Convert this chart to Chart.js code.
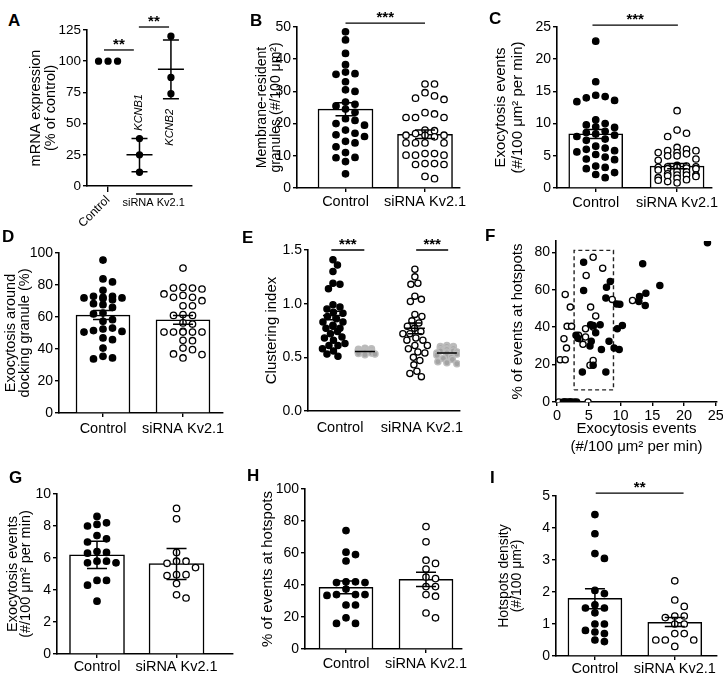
<!DOCTYPE html>
<html>
<head>
<meta charset="utf-8">
<script src="https://cdn.jsdelivr.net/npm/chart.js@4.4.1/dist/chart.umd.min.js"></script>
<style>
html, body { margin: 0; padding: 0; background: #fff; }
#fig { position: relative; width: 723px; height: 686px; overflow: hidden; font-family: Arial, "Liberation Sans", Helvetica, sans-serif; }
#fig canvas { position: absolute; }
.lt { position: absolute; font-weight: 900; font-size: 17px; line-height: 1; z-index: 2; }
</style>
</head>
<body>
<div id="fig">
  <div class="lt" style="left:8px;top:12px">A</div>
  <div class="lt" style="left:250px;top:12px">B</div>
  <div class="lt" style="left:489px;top:10px">C</div>
  <div class="lt" style="left:2px;top:228px">D</div>
  <div class="lt" style="left:242px;top:229px">E</div>
  <div class="lt" style="left:485px;top:227px">F</div>
  <div class="lt" style="left:9px;top:469px">G</div>
  <div class="lt" style="left:247px;top:467px">H</div>
  <div class="lt" style="left:490px;top:469px">I</div>
</div>
<script>
const FONT = 'Arial, "Liberation Sans", Helvetica, sans-serif';
Chart.defaults.font.family = FONT;
Chart.defaults.font.size = 14;
Chart.defaults.color = '#000';

// ---- data ----
const groups = ['Control', 'siRNA Kv2.1'];

// A  mRNA expression (% of control)
const aGroups = ['Control', 'KCNB1', 'KCNB2'];
const aPoints = [[100, 100, 100], [38, 25, 11], [120, 87, 74]];
const aMean = [100, 25, 93.5];
const aLow = [100, 11.5, 70];
const aHigh = [100, 38, 117];
const aYTicks = [0, 25, 50, 75, 100, 125];
const aSig = [{ from: 0.87, to: 1.82, y: 109, text: '**' }, { from: 1.98, to: 2.94, y: 127.4, text: '**' }];

// B  membrane-resident granules
const bCtrl = [48.5, 46, 41.8, 38.3, 36, 35.5, 35.3, 33, 30.5, 30, 26.7, 26, 25.5, 24.5, 23.5, 21.5, 21, 20, 19.5, 18, 17, 16.5, 16, 14.5, 14, 12.8, 11, 9.5, 9.4, 8.2, 4.4];
const bSi = [32.3, 32.3, 29.6, 28.6, 27.9, 27.5, 23.4, 23, 21.9, 21.9, 21.9, 18, 17.8, 16.9, 16.4, 16.4, 16.4, 15.9, 14, 14, 14, 14, 10.7, 10.7, 10.2, 10.2, 10.2, 7.6, 7.6, 7.3, 7.3, 3.6, 2.9];
const bMean = [24.5, 16.7];
const bLow = [22.4, 15.4];
const bHigh = [26.5, 18];
const bYTicks = [0, 10, 20, 30, 40, 50];
const bSig = [{ from: 1, to: 2, y: 51.2, text: '***' }];

// C  exocytosis events
const cCtrl = [22.8, 16.5, 14.4, 14.2, 14.0, 13.6, 13.4, 10.6, 10.0, 9.8, 9.5, 9.4, 8.8, 8.6, 8.4, 8.2, 8.0, 7.6, 7.4, 6.5, 6.2, 6.0, 5.8, 5.6, 5.2, 4.8, 4.5, 4.4, 3.4, 3.2, 3.0, 2.4, 2.1, 1.6];
const cSi = [12.0, 9.0, 8.5, 8.0, 6.3, 6.0, 5.8, 5.8, 5.5, 5.5, 5.3, 5.0, 5.0, 4.5, 4.3, 3.5, 3.4, 3.3, 3.3, 3.2, 3.2, 3.1, 3.0, 3.0, 2.8, 2.6, 2.5, 2.2, 2.0, 2.0, 2.0, 1.9, 1.8, 1.6, 1.5, 1.3, 1.2, 1.0, 0.8];
const cMean = [8.4, 3.4];
const cLow = [7.7, 3.0];
const cHigh = [9.1, 3.8];
const cYTicks = [0, 5, 10, 15, 20, 25];
const cSig = [{ from: 0.96, to: 2.01, y: 25.3, text: '***' }];

// D  exocytosis around docking granule (%)
const dCtrl = [95.6, 83.8, 81.9, 76.7, 72.9, 72.9, 72.3, 71.9, 71.9, 71.5, 70.8, 68.3, 67.7, 66, 62.5, 61.9, 58.3, 57.3, 53.1, 52.5, 51.5, 51, 50.6, 46.9, 45.8, 40.6, 35.4, 34.4, 33.8];
const dSi = [90.6, 78.5, 78.1, 78.1, 77.5, 74.4, 73.5, 72.3, 72.3, 70.2, 67, 67, 61.5, 61, 61, 56.3, 55.6, 51, 50.6, 50.6, 50.6, 50.6, 50.6, 45.4, 45.2, 40.6, 39.6, 36.9, 36.5, 34.4];
const dMean = [61.2, 58.3];
const dLow = [58.5, 55.5];
const dHigh = [64, 61];
const dYTicks = [0, 20, 40, 60, 80, 100];

// E  clustering index (observed vs random)
const eCtrl = [1.41, 1.36, 1.30, 1.19, 1.18, 1.14, 0.99, 0.97, 0.95, 0.92, 0.91, 0.88, 0.86, 0.83, 0.83, 0.80, 0.79, 0.77, 0.77, 0.74, 0.72, 0.69, 0.68, 0.66, 0.63, 0.61, 0.61, 0.58, 0.56, 0.53, 0.51];
const eCtrlRand = [0.585, 0.58, 0.575, 0.57, 0.57, 0.565, 0.565, 0.56, 0.56, 0.56, 0.555, 0.555, 0.555, 0.55, 0.55, 0.55, 0.545, 0.545, 0.54, 0.54, 0.535, 0.53, 0.525];
const eSi = [1.32, 1.25, 1.19, 1.18, 1.07, 1.04, 1.02, 0.90, 0.88, 0.84, 0.82, 0.79, 0.77, 0.74, 0.72, 0.72, 0.68, 0.66, 0.66, 0.61, 0.61, 0.58, 0.55, 0.54, 0.50, 0.47, 0.43, 0.37, 0.35, 0.32];
const eSiRand = [0.61, 0.60, 0.60, 0.60, 0.59, 0.59, 0.58, 0.58, 0.57, 0.57, 0.56, 0.56, 0.55, 0.55, 0.54, 0.54, 0.53, 0.52, 0.51, 0.50, 0.49, 0.48, 0.46, 0.45, 0.44];
const eMean = [0.89, 0.555, 0.77, 0.54];
const eLow = [0.85, 0.555, 0.72, 0.54];
const eHigh = [0.93, 0.555, 0.82, 0.54];
const eYTicks = [0, 0.5, 1.0, 1.5];
const eSig = [{ from: 0.95, to: 1.98, y: 1.5, text: '***' }, { from: 3.6, to: 4.6, y: 1.5, text: '***' }];

// F  hotspots vs exocytosis rate
const fCtrlX = [23.7, 13.5, 16.2, 14.0, 13.0, 12.9, 13.9, 8.4, 7.8, 7.7, 9.4, 9.9, 4.2, 4.2, 10.3, 9.5, 6.8, 5.7, 5.3, 6.1, 5.4, 5.2, 7.0, 9.0, 9.8, 8.2, 3.0, 3.3, 5.7, 4.0, 7.7, 1.0, 1.4, 1.8, 2.2, 2.7, 3.1];
const fCtrlY = [85, 73.8, 62.2, 58.1, 56.4, 53.7, 51.6, 64.4, 61.3, 55.5, 52.4, 52.2, 74.7, 59.6, 40.9, 39.1, 41.2, 40.9, 41.2, 37, 32.4, 29.9, 28.1, 28.8, 28.1, 32.5, 35.6, 34, 19.6, 16, 16, 0, 0, 0, 0, 0, 0];
const fSiX = [5.7, 7.2, 4.6, 1.3, 2.1, 5.3, 8.7, 11.9, 6.1, 1.6, 2.3, 1.1, 1.5, 0.5, 1.3, 3.6, 3.4, 4.5, 4.1, 4.5, 5.7, 5.2, 5.7, 0.3, 1.2, 2.1, 4.9];
const fSiY = [77.3, 71.5, 67.6, 57.4, 50.7, 50.7, 54.8, 54.2, 45.9, 40.4, 40.4, 33.8, 28.8, 22.6, 22.6, 33.8, 35.6, 34.7, 30.8, 39.1, 40, 19.6, 22.2, 0, 0, 0, 0];
const fGateX = [2.7, 8.9];
const fGateY = [6.5, 81];
const fXTicks = [0, 5, 10, 15, 20, 25];
const fYTicks = [0, 20, 40, 60, 80];

// G  exocytosis events (subset)
const gCtrl = [8.6, 8.2, 8.1, 8.0, 7.4, 7.2, 7.0, 6.4, 6.35, 6.3, 5.8, 5.8, 5.7, 5.7, 4.6, 4.6, 4.3, 3.3];
const gSi = [9.1, 8.45, 6.35, 5.8, 5.8, 5.67, 5.4, 4.96, 4.96, 4.9, 4.4, 3.7, 3.5];
const gMean = [6.2, 5.65];
const gLow = [5.35, 4.65];
const gHigh = [7.05, 6.6];
const gYTicks = [0, 2, 4, 6, 8, 10];

// H  % of events at hotspots
const hCtrl = [74, 60.5, 59, 55, 42, 42, 41.5, 41.5, 37.5, 34, 34, 34, 33.5, 27.5, 27.5, 19.5, 16, 16];
const hSi = [76.5, 67, 55.5, 53.5, 50, 45, 44, 39, 39, 34, 33, 22.5, 19.5];
const hMean = [38.5, 43.5];
const hLow = [34.5, 39];
const hHigh = [42.5, 48];
const hYTicks = [0, 20, 40, 60, 80, 100];

// I  hotspots density
const iCtrl = [4.42, 3.82, 3.2, 3.05, 2.05, 1.95, 1.6, 1.5, 1.5, 1.35, 1.0, 1.0, 0.8, 0.75, 0.7, 0.5, 0.45];
const iSi = [2.35, 1.75, 1.55, 1.25, 1.25, 1.2, 1.0, 1.0, 0.7, 0.7, 0.5, 0.5, 0.5, 0.3];
const iMean = [1.8, 1.05];
const iLow = [1.48, 0.92];
const iHigh = [2.1, 1.2];
const iYTicks = [0, 1, 2, 3, 4, 5];
const iSig = [{ from: 1.01, to: 2.11, y: 5.09, text: '**' }];

// ---- helpers ----
const fig = document.getElementById('fig');
const marks = {
  filled: { bg: '#000', bd: '#000' },
  open: { bg: '#fff', bd: '#000' },
  gray: { bg: '#a3a3a3', bd: '#bdbdbd' }
};

// column scatter: points with close values are put side by side (pixel space)
function swarm(values, center, ppx, ppy, o) {
  const order = values.map((v, i) => i).sort((a, b) => values[b] - values[a]);
  const placed = [];
  const xs = [];
  order.forEach(i => {
    const py = values[i] * ppy;
    let best = 0, bestN = Infinity;
    for (let k = 0; ; k++) {
      const off = (k % 2 ? 1 : -1) * Math.ceil(k / 2) * o.step;
      if (Math.abs(off) > o.half) break;
      let n = 0;
      placed.forEach(p => {
        const dx = Math.abs(p.x - off), dy = Math.abs(p.y - py);
        if (o.round ? Math.hypot(dx, dy) < o.dh : (dx < o.dh && dy < o.dv)) n++;
      });
      if (n === 0) { best = off; break; }
      if (n < bestN) { bestN = n; best = off; }
    }
    placed.push({ x: best, y: py });
    xs[i] = center + best / ppx;
  });
  return values.map((v, i) => ({ x: xs[i], y: v }));
}

function errLines(e, ppx) {
  const pts = [];
  const c = (e.cap || 0) / ppx, m = (e.meanHalf || 0) / ppx;
  e.x.forEach((x, i) => {
    const lo = e.lo[i], hi = e.hi[i];
    if (hi > lo) {
      pts.push({ x: x - c, y: hi }, { x: x + c, y: hi }, { x, y: null },
               { x, y: hi }, { x, y: lo }, { x, y: null },
               { x: x - c, y: lo }, { x: x + c, y: lo }, { x, y: null });
    }
    if (m && e.mean && (hi > lo || e.meanAlways)) {
      pts.push({ x: x - m, y: e.mean[i] }, { x: x + m, y: e.mean[i] }, { x, y: null });
    }
  });
  return pts;
}

function sigPlugin(list) {
  return {
    id: 'sig',
    afterDraw(chart) {
      if (!list) return;
      const { ctx, scales: { x, y } } = chart;
      ctx.save();
      ctx.strokeStyle = '#000';
      ctx.fillStyle = '#000';
      ctx.lineWidth = 1.3;
      ctx.font = 'bold 15px ' + FONT;
      ctx.textAlign = 'center';
      ctx.textBaseline = 'alphabetic';
      list.forEach(s => {
        const a = x.getPixelForValue(s.from), b = x.getPixelForValue(s.to), yy = y.getPixelForValue(s.y);
        ctx.beginPath();
        ctx.moveTo(a, yy);
        ctx.lineTo(b, yy);
        ctx.stroke();
        ctx.fillText(s.text, (a + b) / 2, yy - 1);
      });
      ctx.restore();
    }
  };
}

function axisBase(len, show) {
  return {
    grid: { display: true, drawOnChartArea: false, drawTicks: true, offset: false, tickLength: len, color: show ? '#000' : 'rgba(0,0,0,0)', lineWidth: 1.4 },
    border: { display: true, color: '#000', width: 1.6 }
  };
}

function panel(s) {
  const g = s.geom;
  const W = Math.round(g.x1 - g.x0 + g.L + g.R);
  const H = Math.round(g.yBot - g.yTop + g.T + g.B);
  const cv = document.createElement('canvas');
  cv.width = W;
  cv.height = H;
  cv.style.left = (g.x0 - g.L) + 'px';
  cv.style.top = (g.yTop - g.T) + 'px';
  cv.style.width = W + 'px';
  cv.style.height = H + 'px';
  fig.appendChild(cv);

  const ppx = (g.x1 - g.x0) / (s.x.max - s.x.min);
  const ppy = (g.yBot - g.yTop) / (s.y.max - s.y.min);
  const ds = [];

  if (s.bars) {
    ds.push({
      type: 'bar', data: s.bars.x.map((x, i) => ({ x, y: s.bars.y[i] })),
      barThickness: s.bars.w, backgroundColor: '#fff', borderColor: '#000', borderWidth: 1.5, order: 5
    });
  }
  (s.swarms || []).forEach(w => {
    const mk = marks[w.kind];
    ds.push({
      type: 'scatter', data: swarm(w.values, w.x, ppx, ppy, w.lay),
      pointRadius: w.r, pointBackgroundColor: mk.bg, pointBorderColor: mk.bd, pointBorderWidth: 1.3, order: 2
    });
  });
  (s.points || []).forEach(w => {
    const mk = marks[w.kind];
    ds.push({
      type: 'scatter', data: w.xs.map((x, i) => ({ x, y: w.ys[i] })),
      pointRadius: w.r, pointBackgroundColor: mk.bg, pointBorderColor: mk.bd, pointBorderWidth: 1.3, order: 2
    });
  });
  if (s.gate) {
    const [xa, xb] = s.gate.x, [ya, yb] = s.gate.y;
    ds.push({
      type: 'line', data: [{ x: xa, y: ya }, { x: xb, y: ya }, { x: xb, y: yb }, { x: xa, y: yb }, { x: xa, y: ya }],
      borderColor: '#222', borderWidth: 1.4, borderDash: [4, 3], pointRadius: 0, fill: false, order: 4
    });
  }
  if (s.errs) {
    ds.push({
      type: 'line', data: errLines(s.errs, ppx), borderColor: '#000', borderWidth: 1.5,
      pointRadius: 0, spanGaps: false, fill: false, order: 1
    });
  }

  const xs = s.x, ys = s.y;
  const plugins = [sigPlugin(s.sig)];
  if (s.extra) plugins.push({ id: 'extra', afterDraw: s.extra });

  return new Chart(cv, {
    type: 'scatter',
    data: { datasets: ds },
    options: {
      responsive: false,
      animation: false,
      devicePixelRatio: 1,
      events: [],
      layout: { padding: { left: 0, top: g.T, right: g.R, bottom: 0 } },
      plugins: { legend: { display: false }, tooltip: { enabled: false } },
      scales: {
        x: Object.assign(axisBase(xs.tickLen, xs.showTicks !== false), {
          type: 'linear', min: xs.min, max: xs.max, offset: false, z: xs.z || 0,
          ticks: {
            autoSkip: false, minRotation: xs.rotation || 0, maxRotation: xs.rotation || 0,
            padding: xs.pad, font: { size: xs.font || 14.5 }, color: '#000',
            callback: (v, i) => xs.labels[i]
          },
          afterBuildTicks: a => { a.ticks = xs.ticks.map(v => ({ value: v })); },
          afterFit: a => { a.height = g.B; },
          title: xs.title
            ? { display: true, text: xs.title, color: '#000', padding: 0, font: { size: xs.titleSize, lineHeight: xs.titleLH } }
            : { display: false }
        }),
        y: Object.assign(axisBase(4, true), {
          type: 'linear', min: ys.min, max: ys.max,
          ticks: {
            padding: 2, font: { size: ys.font || 14 }, color: '#000',
            callback: v => (ys.fmt ? ys.fmt(v) : String(v))
          },
          afterBuildTicks: a => { a.ticks = ys.ticks.map(v => ({ value: v })); },
          afterFit: a => { a.width = g.L; },
          title: { display: true, text: ys.title, color: '#000', padding: 0, font: { size: ys.titleSize, lineHeight: ys.titleLH } }
        })
      }
    },
    plugins
  });
}

const barLay = { dh: 9.5, dv: 7, step: 4.75, half: 24 };

function barSpec(geom, xr, yr, ctrl, si, mean, low, high, sig, w) {
  return {
    geom, x: Object.assign({ ticks: [1, 2], labels: groups, tickLen: 4, z: 1 }, xr), y: yr,
    bars: { x: [1, 2], y: mean, w },
    swarms: [
      { x: 1, values: ctrl, kind: 'filled', r: 3.2, lay: barLay },
      { x: 2, values: si, kind: 'open', r: 3.2, lay: barLay }
    ],
    errs: { x: [1, 2], lo: low, hi: high, cap: 10 },
    sig
  };
}

// A
panel({
  geom: { x0: 87, x1: 192, yTop: 30, yBot: 186, L: 58, T: 30, R: 15, B: 42 },
  x: { min: 0.33, max: 3.67, ticks: [1], labels: [aGroups[0]], rotation: 45, tickLen: 6, pad: 1, font: 12 },
  y: { min: 0, max: 125, ticks: aYTicks, font: 13.5, title: ['mRNA expression', '(% of control)'], titleSize: 14.5, titleLH: 1.0 },
  swarms: aPoints.map((v, i) => ({ x: i + 1, values: v, kind: 'filled', r: 3, lay: { dh: 9.5, dv: 7, step: 4.75, half: 20 } })),
  errs: { x: [1, 2, 3], lo: aLow, hi: aHigh, mean: aMean, cap: 8, meanHalf: 13 },
  sig: aSig,
  extra(chart) {
    const { ctx, scales: { x, y } } = chart;
    ctx.save();
    ctx.fillStyle = '#000';
    ctx.strokeStyle = '#000';
    ctx.font = 'italic 11px ' + FONT;
    ctx.textAlign = 'center';
    ctx.textBaseline = 'middle';
    [[2, 59], [3, 47]].forEach(([gx, gy], i) => {
      ctx.save();
      ctx.translate(x.getPixelForValue(gx) - 1, y.getPixelForValue(gy));
      ctx.rotate(-Math.PI / 2);
      ctx.fillText(aGroups[i + 1], 0, 0);
      ctx.restore();
    });
    const yb = y.bottom + 8;
    ctx.lineWidth = 1.3;
    ctx.beginPath();
    ctx.moveTo(x.getPixelForValue(1.89), yb);
    ctx.lineTo(x.getPixelForValue(3.06), yb);
    ctx.stroke();
    ctx.font = '11px ' + FONT;
    ctx.fillText(groups[1], x.getPixelForValue(2.45), yb + 9);
    ctx.restore();
  }
});

// B
panel(barSpec(
  { x0: 297, x1: 460, yTop: 27, yBot: 188, L: 42, T: 27, R: 12, B: 30 },
  { min: 0.39, max: 2.44, pad: 1.2 },
  { min: 0, max: 50, ticks: bYTicks, title: ['Membrane-resident', 'granules (#/100 μm²)'], titleSize: 14, titleLH: 1.0 },
  bCtrl, bSi, bMean, bLow, bHigh, bSig, 55));

// C
panel(barSpec(
  { x0: 557, x1: 713, yTop: 27, yBot: 188, L: 65, T: 27, R: 9, B: 30 },
  { min: 0.524, max: 2.427, pad: 1.8 },
  { min: 0, max: 25, ticks: cYTicks, title: ['Exocytosis events', '(#/100 μm² per min)'], titleSize: 15, titleLH: 1.13 },
  cCtrl, cSi, cMean, cLow, cHigh, cSig, 54));

// D
panel(barSpec(
  { x0: 59, x1: 223, yTop: 253, yBot: 413, L: 55, T: 25, R: 12, B: 30 },
  { min: 0.45, max: 2.5, pad: 3.5 },
  { min: 0, max: 100, ticks: dYTicks, title: ['Exocytosis around', 'docking granule (%)'], titleSize: 14.5, titleLH: 0.95 },
  dCtrl, dSi, dMean, dLow, dHigh, null, 54));

// E
const eLay = { round: true, dh: 7, step: 0.5, half: 13 };
panel({
  geom: { x0: 308, x1: 460, yTop: 250, yBot: 411, L: 44, T: 25, R: 10, B: 30 },
  x: { min: 0.22, max: 4.97, ticks: [1.22, 3.78], labels: groups, tickLen: 4, pad: 3.8, showTicks: false },
  y: { min: 0, max: 1.5, ticks: eYTicks, fmt: v => v.toFixed(1), title: ['Clustering index'], titleSize: 15, titleLH: 1.0 },
  swarms: [
    { x: 1, values: eCtrl, kind: 'filled', r: 3.1, lay: eLay },
    { x: 2, values: eCtrlRand, kind: 'gray', r: 3.1, lay: { round: true, dh: 6.2, step: 0.5, half: 10 } },
    { x: 3.56, values: eSi, kind: 'open', r: 3.1, lay: eLay },
    { x: 4.56, values: eSiRand, kind: 'gray', r: 3.1, lay: { round: true, dh: 6.2, step: 0.5, half: 10 } }
  ],
  errs: { x: [1, 2, 3.56, 4.56], lo: eLow, hi: eHigh, mean: eMean, cap: 7, meanHalf: 10, meanAlways: true },
  sig: eSig
});

// F
panel({
  geom: { x0: 556, x1: 717, yTop: 240.75, yBot: 402, L: 46, T: 15, R: 9, B: 54 },
  x: { min: -0.15, max: 25.2, ticks: fXTicks, labels: fXTicks.map(String), tickLen: 4, pad: 1,
       title: ['Exocytosis events', '(#/100 μm² per min)'], titleSize: 15, titleLH: 1.2 },
  y: { min: 0, max: 86, ticks: fYTicks, title: ['% of events at hotspots'], titleSize: 15, titleLH: 1.0 },
  gate: { x: fGateX, y: fGateY },
  points: [
    { xs: fCtrlX, ys: fCtrlY, kind: 'filled', r: 3.1 },
    { xs: fSiX, ys: fSiY, kind: 'open', r: 3.1 }
  ]
});

// G
panel(barSpec(
  { x0: 57, x1: 233, yTop: 494, yBot: 654, L: 51, T: 25, R: 10, B: 30 },
  { min: 0.497, max: 2.71, pad: 0.2 },
  { min: 0, max: 10, ticks: gYTicks, title: ['Exocytosis events', '(#/100 μm² per min)'], titleSize: 14.5, titleLH: 0.9 },
  gCtrl, gSi, gMean, gLow, gHigh, null, 55));

// H
panel(barSpec(
  { x0: 305, x1: 462, yTop: 489, yBot: 649, L: 45, T: 25, R: 10, B: 30 },
  { min: 0.4875, max: 2.45, pad: 1.9 },
  { min: 0, max: 100, ticks: hYTicks, title: ['% of events at hotspots'], titleSize: 15, titleLH: 1.0 },
  hCtrl, hSi, hMean, hLow, hHigh, null, 54));

// I
panel(barSpec(
  { x0: 556, x1: 717, yTop: 496, yBot: 656, L: 58, T: 25, R: 5, B: 30 },
  { min: 0.5125, max: 2.525, pad: 0.2 },
  { min: 0, max: 5, ticks: iYTicks, title: ['Hotspots density', '(#/100 μm²)'], titleSize: 14, titleLH: 0.93 },
  iCtrl, iSi, iMean, iLow, iHigh, iSig, 54));
</script>
</body>
</html>
